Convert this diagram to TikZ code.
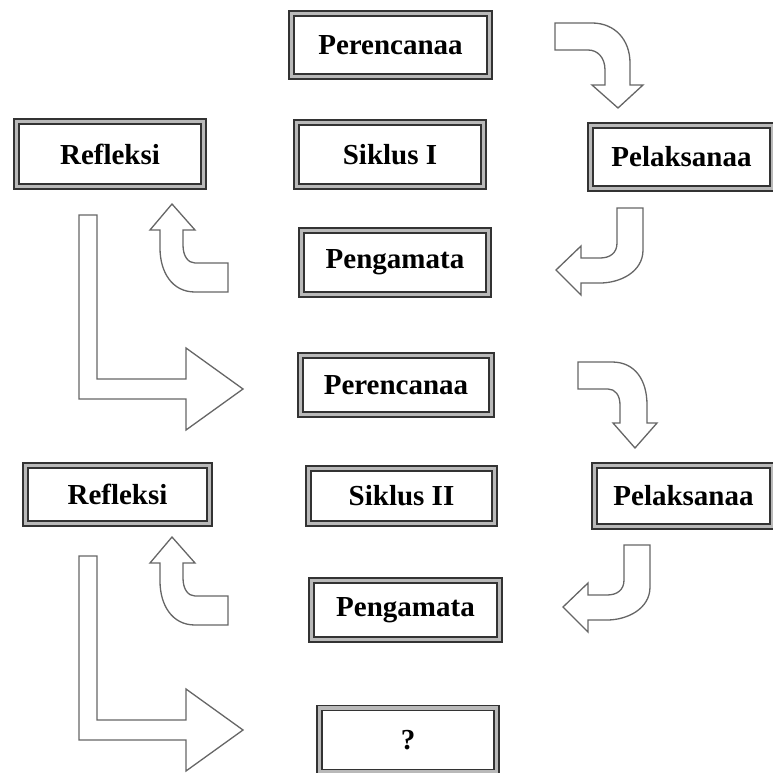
\documentclass[tikz,border=0pt]{standalone}
\usepackage{fontspec}
\setmainfont{Liberation Serif}
\usepackage{tikz}

\begin{document}
\begin{tikzpicture}[x=1pt,y=-1pt,
  box/.style={draw=black!80,line width=1.6pt,double=gray!55,double distance=3.2pt,
    fill=white,inner sep=0pt,font=\bfseries\fontsize{29}{32}\selectfont},
  blockarrow/.style={draw=black!60,line width=1.3pt,fill=white,line join=miter}]
\useasboundingbox (0,0) rectangle (772,773);
% siklus I
\node[box,minimum width=198,minimum height=63] (per1) at (390.5,45) {Perencanaa};
\node[box,minimum width=187,minimum height=65] (ref1) at (110,154) {Refleksi};
\node[box,minimum width=187,minimum height=64] (sik1) at (390,154.5) {Siklus I};
\node[box,minimum width=182,minimum height=63] (pel1) at (681.5,157) {Pelaksanaa};
\node[box,minimum width=187,minimum height=64] (peng1) at (395,262.5) {Pengamata};
% siklus II
\node[box,minimum width=191,minimum height=59] (per2) at (396,385) {Perencanaa};
\node[box,minimum width=184,minimum height=58] (ref2) at (117.5,494.5) {Refleksi};
\node[box,minimum width=186,minimum height=55] (sik2) at (401.5,496) {Siklus II};
\node[box,minimum width=178,minimum height=61] (pel2) at (683.5,496) {Pelaksanaa};
\node[box,minimum width=188,minimum height=59] (peng2) at (405.5,610) {Pengamata};
\node[box,minimum width=177,minimum height=64] (q) at (408,740) {?};
% block arrows, cycle I
\draw[blockarrow] (555,23) -- (592,23) .. controls (615,23) and (630,40) .. (630,63)
  -- (630,85) -- (643,85) -- (618,108) -- (592,85) -- (605,85) -- (605,70)
  .. controls (605,58) and (598,50) .. (588,50) -- (555,50) -- cycle;
\draw[blockarrow] (643,208) -- (643,250) .. controls (643,272) and (620,283) .. (600,283)
  -- (581,283) -- (581,295) -- (556,270) -- (581,246) -- (581,258) -- (600,258)
  .. controls (610,258) and (617,253) .. (617,243) -- (617,208) -- cycle;
\draw[blockarrow] (228,292) -- (195,292) .. controls (172,292) and (160,272) .. (160,248)
  -- (160,230) -- (150,230) -- (172,204) -- (195,230) -- (183,230) -- (183,245)
  .. controls (183,256) and (188,263) .. (195,263) -- (228,263) -- cycle;
\draw[blockarrow] (79,215) -- (79,399) -- (186,399) -- (186,430) -- (243,389)
  -- (186,348) -- (186,379) -- (97,379) -- (97,215) -- cycle;
% block arrows, cycle II
\draw[blockarrow] (578,362) -- (612,362) .. controls (635,362) and (647,380) .. (647,405)
  -- (647,423) -- (657,423) -- (635,448) -- (613,423) -- (620,423) -- (620,405)
  .. controls (620,395) and (615,389) .. (608,389) -- (578,389) -- cycle;
\begin{scope}[shift={(7,337)}]
\draw[blockarrow] (643,208) -- (643,250) .. controls (643,272) and (620,283) .. (600,283)
  -- (581,283) -- (581,295) -- (556,270) -- (581,246) -- (581,258) -- (600,258)
  .. controls (610,258) and (617,253) .. (617,243) -- (617,208) -- cycle;
\end{scope}
\begin{scope}[shift={(0,333)}]
\draw[blockarrow] (228,292) -- (195,292) .. controls (172,292) and (160,272) .. (160,248)
  -- (160,230) -- (150,230) -- (172,204) -- (195,230) -- (183,230) -- (183,245)
  .. controls (183,256) and (188,263) .. (195,263) -- (228,263) -- cycle;
\end{scope}
\draw[blockarrow] (79,556) -- (79,740) -- (186,740) -- (186,771) -- (243,730)
  -- (186,689) -- (186,720) -- (97,720) -- (97,556) -- cycle;
\end{tikzpicture}
\end{document}
